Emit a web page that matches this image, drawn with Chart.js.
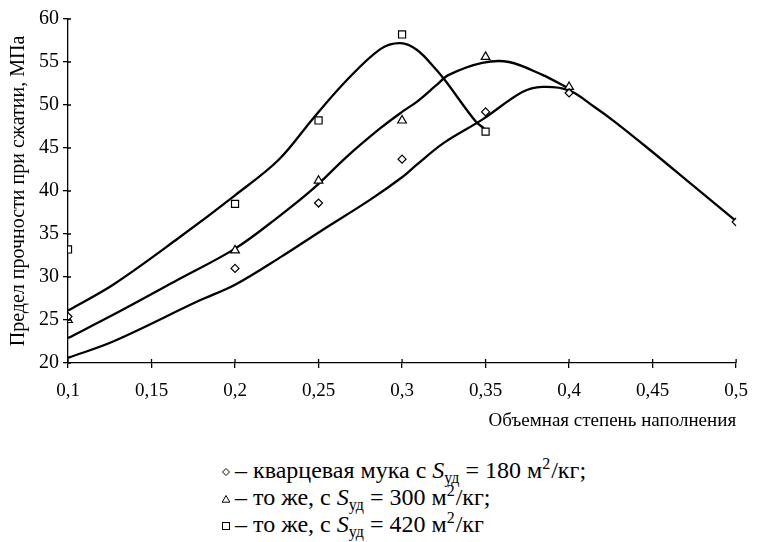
<!DOCTYPE html>
<html lang="ru">
<head>
<meta charset="UTF-8">
<title>Предел прочности</title>
<script src="https://cdn.jsdelivr.net/npm/chart.js@4.4.0/dist/chart.umd.min.js"></script>
<style>
  body { margin: 0; background: #fff; }
  #wrap { position: relative; width: 760px; height: 542px; overflow: hidden; }
  #chart { position: absolute; left: 0; top: 0; }
  #legend { position: absolute; left: 221px; top: 457px; font-family: "Liberation Serif", Tinos, "Times New Roman", Times, "DejaVu Serif", serif;
            font-size: 24px; line-height: 27px; color: #000; }
  #legend div { white-space: nowrap; }
  #legend svg { vertical-align: middle; margin-right: 4px; }
  #legend sub { font-size: 16px; vertical-align: -5px; line-height: 0; }
  #legend sup { font-size: 16px; vertical-align: 9px; line-height: 0; margin-right: 1px; }
</style>
</head>
<body>
<div id="wrap">
  <canvas id="chart" width="760" height="440"></canvas>
  <div id="legend">
    <div><svg width="10" height="10"><path d="M5 1.5 L8.5 5 L5 8.5 L1.5 5 Z" fill="#fff" stroke="#000" stroke-width="1"/></svg>– кварцевая мука с <i>S</i><sub>уд</sub> = 180 м<sup>2</sup>/кг;</div>
    <div><svg width="10" height="10"><path d="M5 1.5 L8.8 8.2 L1.2 8.2 Z" fill="#fff" stroke="#000" stroke-width="1"/></svg>– то же, с <i>S</i><sub>уд</sub> = 300 м<sup>2</sup>/кг;</div>
    <div><svg width="10" height="10"><rect x="1.5" y="1.5" width="7" height="7" fill="#fff" stroke="#000" stroke-width="1"/></svg>– то же, с <i>S</i><sub>уд</sub> = 420 м<sup>2</sup>/кг</div>
  </div>
</div>
<script>
// измеренные точки
const x180 = [0.1, 0.2, 0.25, 0.3, 0.35, 0.4, 0.5];
const y180 = [25.4, 31.0, 38.6, 43.7, 49.2, 51.4, 36.4];
const x300 = [0.1, 0.2, 0.25, 0.3, 0.35, 0.4];
const y300 = [25.0, 33.1, 41.2, 48.2, 55.6, 52.1];
const x420 = [0.1, 0.2, 0.25, 0.3, 0.35];
const y420 = [33.2, 38.5, 48.2, 58.2, 46.9];

// сглаженные кривые
const fitX180 = [0.1, 0.127, 0.178, 0.2, 0.228, 0.251, 0.281, 0.3, 0.309, 0.325, 0.348, 0.372, 0.384, 0.4, 0.415, 0.427, 0.447, 0.475, 0.5];
const fitY180 = [20.6, 22.5, 27.2, 29.1, 32.4, 35.3, 39.0, 41.6, 43.1, 45.6, 48.3, 51.5, 52.1, 51.7, 49.8, 48.1, 45.0, 40.5, 36.5];
const fitX300 = [0.1, 0.127, 0.166, 0.2, 0.226, 0.247, 0.267, 0.287, 0.3, 0.309, 0.3205, 0.328, 0.348, 0.364, 0.384, 0.4];
const fitY300 = [22.9, 25.6, 29.7, 33.3, 37.0, 40.3, 44.0, 47.3, 49.2, 50.4, 52.3, 53.5, 54.9, 55.0, 53.5, 51.9];
const fitX420 = [0.1, 0.127, 0.166, 0.2, 0.226, 0.247, 0.267, 0.287, 0.299, 0.309, 0.3205, 0.3264, 0.344, 0.349];
const fitY420 = [26.1, 29.1, 34.5, 39.5, 43.6, 48.5, 52.9, 56.5, 57.2, 56.4, 54.1, 52.7, 48.1, 47.3];

const xTicks = [0.1, 0.15, 0.2, 0.25, 0.3, 0.35, 0.4, 0.45, 0.5];
const xTickLabels = ['0,1', '0,15', '0,2', '0,25', '0,3', '0,35', '0,4', '0,45', '0,5'];
const yTickLabels = ['20', '25', '30', '35', '40', '45', '50', '55', '60'];

const pts = (xs, ys) => xs.map((x, i) => ({ x: x, y: ys[i] }));
const FONT = '"Liberation Serif", Tinos, "Times New Roman", Times, "DejaVu Serif", serif';

const marker = (data, style, r) => ({
  type: 'scatter', data: data, pointStyle: style, pointRadius: r, pointHoverRadius: r,
  pointBackgroundColor: '#fff', pointBorderColor: '#000', pointBorderWidth: 1.2, showLine: false
});
const curve = (data) => ({
  type: 'line', data: data, borderColor: '#000', borderWidth: 2.3, pointRadius: 0,
  fill: false, tension: 0.35
});

// короткие риски внутрь поля графика
const innerTicks = {
  id: 'innerTicks',
  afterDraw(chart) {
    const { ctx, scales: { x, y } } = chart;
    ctx.save();
    ctx.strokeStyle = '#000';
    ctx.lineWidth = 1.3;
    ctx.beginPath();
    xTicks.forEach(v => { const px = x.getPixelForValue(v); ctx.moveTo(px, y.bottom); ctx.lineTo(px, y.bottom - 4); });
    yTickLabels.forEach(v => { const py = y.getPixelForValue(+v); ctx.moveTo(x.left, py); ctx.lineTo(x.left + 3, py); });
    ctx.stroke();
    ctx.restore();
  }
};

new Chart(document.getElementById('chart'), {
  data: {
    datasets: [
      marker(pts(x180, y180), 'rectRot', 4),
      marker(pts(x300, y300), 'triangle', 5),
      marker(pts(x420, y420), 'rect', 5),
      curve(pts(fitX180, fitY180)),
      curve(pts(fitX300, fitY300)),
      curve(pts(fitX420, fitY420))
    ]
  },
  options: {
    responsive: false,
    animation: false,
    layout: { padding: { top: 19, right: 17, left: 0, bottom: 8 } },
    plugins: { legend: { display: false }, tooltip: { enabled: false } },
    scales: {
      x: {
        type: 'linear', min: 0.1, max: 0.5,
        afterBuildTicks: s => { s.ticks = xTicks.map(v => ({ value: v })); },
        afterFit: s => { s.height = 69; },
        ticks: { color: '#000', padding: 12, maxRotation: 0, font: { family: FONT, size: 19 },
                 callback: (v, i) => xTickLabels[i] },
        grid: { drawOnChartArea: false, color: '#000', lineWidth: 1.3, tickLength: 5 },
        border: { color: '#000', width: 1.3 },
        title: { display: true, text: 'Объемная степень наполнения', align: 'end', color: '#000',
                 font: { family: FONT, size: 19 }, padding: { top: 0, bottom: 0 } }
      },
      y: {
        min: 20, max: 60,
        afterBuildTicks: s => { s.ticks = yTickLabels.map(v => ({ value: +v })); },
        afterFit: s => { s.width = 68; },
        ticks: { color: '#000', padding: 4, font: { family: FONT, size: 20 },
                 callback: (v, i) => yTickLabels[i] },
        grid: { drawOnChartArea: false, color: '#000', lineWidth: 1.3, tickLength: 5 },
        border: { color: '#000', width: 1.3 },
        title: { display: true, text: 'Предел прочности при сжатии, МПа', color: '#000',
                 font: { family: FONT, size: 20 }, padding: { top: 7, bottom: 0 } }
      }
    }
  },
  plugins: [innerTicks]
});
</script>
</body>
</html>
